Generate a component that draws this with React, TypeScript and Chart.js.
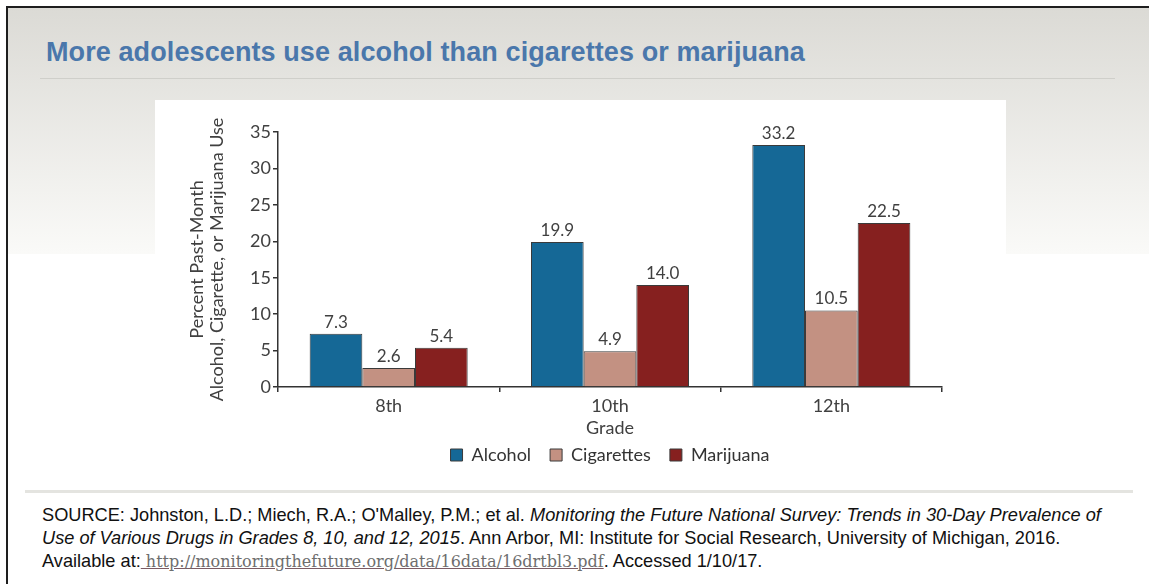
import React, { useEffect, useRef } from "react";
import { Chart, registerables } from "chart.js";

Chart.register(...registerables);

// ---- data ----
const grades = ["8th", "10th", "12th"];
const seriesNames = ["Alcohol", "Cigarettes", "Marijuana"];
const alcohol = [7.3, 19.9, 33.2];
const cigarettes = [2.6, 4.9, 10.5];
const marijuana = [5.4, 14.0, 22.5];
const seriesColors = ["#156896", "#c39182", "#86201f"];
const yMin = 0;
const yMax = 35;
const yStep = 5;
const yTitle = ["Percent Past-Month", "Alcohol, Cigarette, or Marijuana Use"];
const xTitle = "Grade";
const chartTitle = "More adolescents use alcohol than cigarettes or marijuana";

const CHART_FONT = "Lato, 'Noto Sans', sans-serif";

const valueLabels = {
  id: "valueLabels",
  afterDatasetsDraw(chart: any) {
    const ctx = chart.ctx;
    ctx.save();
    ctx.font = `17px ${CHART_FONT}`;
    ctx.fillStyle = "#404040";
    ctx.textAlign = "center";
    ctx.textBaseline = "bottom";
    chart.data.datasets.forEach((ds: any, i: number) => {
      const meta = chart.getDatasetMeta(i);
      meta.data.forEach((bar: any, j: number) => {
        ctx.fillText(Number(ds.data[j]).toFixed(1), bar.x, bar.y - 3);
      });
    });
    ctx.restore();
  },
};

function BarChart() {
  const ref = useRef<HTMLCanvasElement | null>(null);
  useEffect(() => {
    if (!ref.current) return;
    const seriesData = [alcohol, cigarettes, marijuana];
    const chart = new Chart(ref.current, {
      type: "bar",
      data: {
        labels: grades,
        datasets: seriesNames.map((name, i) => ({
          label: name,
          data: seriesData[i],
          backgroundColor: seriesColors[i],
          borderColor: "#3a3a3a",
          borderWidth: 1,
          categoryPercentage: 0.714,
          barPercentage: 1,
        })),
      },
      options: {
        animation: false,
        responsive: false,
        maintainAspectRatio: false,
        layout: { padding: { left: 0, right: 64, top: 32, bottom: 0 } },
        font: { family: CHART_FONT },
        plugins: {
          tooltip: { enabled: false },
          legend: {
            position: "bottom",
            fullSize: false,
            labels: {
              boxWidth: 12,
              boxHeight: 12,
              padding: 19,
              color: "#333",
              font: { family: CHART_FONT, size: 18 },
            },
          },
        },
        scales: {
          x: {
            type: "category",
            grid: {
              offset: true,
              drawOnChartArea: false,
              drawTicks: true,
              tickLength: 5,
              color: "#333",
              lineWidth: 1.5,
            },
            border: { color: "#333", width: 1.5 },
            ticks: {
              color: "#404040",
              padding: 3,
              font: { family: CHART_FONT, size: 18 },
            },
            title: {
              display: true,
              text: xTitle,
              color: "#404040",
              font: { family: CHART_FONT, size: 18 },
              padding: { top: 0, bottom: -11.8 },
            },
            afterFit(scale: any) {
              scale.height = 40;
            },
          },
          y: {
            min: yMin,
            max: yMax,
            grid: {
              drawOnChartArea: false,
              drawTicks: true,
              tickLength: 5,
              color: "#333",
              lineWidth: 1.5,
            },
            border: { color: "#333", width: 1.5 },
            ticks: {
              stepSize: yStep,
              color: "#404040",
              padding: 2,
              font: { family: CHART_FONT, size: 18 },
            },
            title: {
              display: true,
              text: yTitle,
              color: "#404040",
              font: { family: CHART_FONT, size: 18, lineHeight: 1.1111 },
              padding: { top: 32, bottom: 0 },
            },
            afterFit(scale: any) {
              scale.width = 123;
            },
          },
        },
      },
      plugins: [valueLabels],
    } as any);
    return () => chart.destroy();
  }, []);
  return (
    <canvas
      ref={ref}
      width={851}
      height={374}
      style={{ width: 851, height: 374, display: "block" }}
    />
  );
}

export default function App() {
  return (
    <div
      style={{
        position: "fixed",
        left: 0,
        top: 0,
        width: 1149,
        height: 584,
        background: "#ffffff",
        overflow: "hidden",
        fontFamily: "'Liberation Sans', Arial, sans-serif",
      }}
    >
      {/* gradient band */}
      <div
        style={{
          position: "absolute",
          left: 6,
          top: 6,
          right: 0,
          height: 248,
          background: "linear-gradient(#dbdad5, #fafaf8)",
        }}
      />
      {/* frame borders */}
      <div style={{ position: "absolute", left: 6, top: 6, width: 2, height: 578, background: "#1e1e1e" }} />
      <div style={{ position: "absolute", left: 6, top: 6, right: 0, height: 2, background: "#1e1e1e" }} />
      {/* title */}
      <div
        style={{
          position: "absolute",
          left: 46,
          top: 39,
          fontSize: 27,
          lineHeight: "27px",
          fontWeight: "bold",
          letterSpacing: "0.1px",
          color: "#4a77ab",
          whiteSpace: "nowrap",
        }}
      >
        {chartTitle}
      </div>
      <div style={{ position: "absolute", left: 40, top: 78, width: 1075, height: 1, background: "#cfcfca" }} />
      {/* white chart panel */}
      <div style={{ position: "absolute", left: 155, top: 100, width: 851, height: 170, background: "#ffffff" }} />
      <div style={{ position: "absolute", left: 155, top: 100 }}>
        <BarChart />
      </div>
      {/* bottom separator */}
      <div style={{ position: "absolute", left: 25, top: 490, width: 1108, height: 3, background: "#e4e4e0" }} />
      {/* source */}
      <div
        style={{
          position: "absolute",
          left: 42,
          top: 504,
          fontSize: 18.2,
          lineHeight: "23px",
          color: "#111111",
          whiteSpace: "nowrap",
        }}
      >
        SOURCE: Johnston, L.D.; Miech, R.A.; O'Malley, P.M.; et al.{" "}
        <i>Monitoring the Future National Survey: Trends in 30-Day Prevalence of</i>
        <br />
        <i>Use of Various Drugs in Grades 8, 10, and 12, 2015</i>. Ann Arbor, MI: Institute for Social Research, University of Michigan, 2016.
        <br />
        Available at:
        <span
          style={{
            fontFamily: "'DejaVu Serif', Georgia, serif",
            fontSize: 16,
            color: "#6e6e6e",
            textDecoration: "underline",
            textDecorationColor: "#7b5b63",
          }}
        >
          {" http://monitoringthefuture.org/data/16data/16drtbl3.pdf"}
        </span>
        . Accessed 1/10/17.
      </div>
    </div>
  );
}
